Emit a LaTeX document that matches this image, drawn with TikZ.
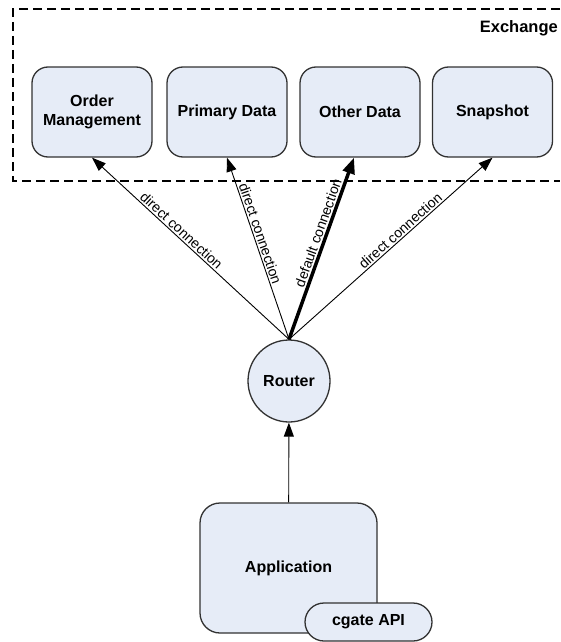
\documentclass[tikz,border=0pt]{standalone}
\usepackage{fontspec}
\setmainfont{Liberation Sans}
\usetikzlibrary{calc,arrows.meta}
\definecolor{unitfill}{RGB}{230,236,247}
\definecolor{unitline}{RGB}{50,50,50}
\def\unitnode{\node[draw=unitline,fill=unitfill,line width=1.3pt,rounded corners=16pt,minimum width=120pt,minimum height=90pt,align=center,font=\bfseries\fontsize{16}{19}\selectfont]}
\def\drawlink{\draw[line width=0.9pt,-{Triangle[length=14pt,width=10pt]}]}
\def\drawdefault{\draw[line width=3.5pt,-{Triangle[length=16pt,width=12pt]}]}

\begin{document}
\begin{tikzpicture}[x=1pt,y=-1pt,
  linklabel/.style={sloped,above,pos=0.57,inner sep=1.5pt,font=\fontsize{14}{16}\selectfont}]
\useasboundingbox (0,0) rectangle (560,642);

% ---------- the Exchange frame, open on the right
\coordinate (ex_tr) at (560,9);
\coordinate (ex_br) at (560,181);
\draw[line width=1.3pt,dash pattern=on 9pt off 5pt] (ex_tr) -| (13,181) -- (ex_br);
\node[anchor=base east,inner sep=0pt,font=\bfseries\fontsize{16.5}{19}\selectfont] (exchange) at (558,33) {Exchange};

% ---------- the four units inside the exchange
\unitnode (om) at (92,112) {Order\\Management};
\unitnode (pd) at (227,112) {Primary Data};
\unitnode (od) at (360,112) {Other Data};
\unitnode (snap) at (492.5,112) {Snapshot};

% ---------- router and application
\node[circle,draw=unitline,fill=unitfill,line width=1.3pt,minimum size=82pt,font=\bfseries\fontsize{16}{19}\selectfont] (router) at (289,381) {Router};
\coordinate (router_top) at (router.north); % all connections leave from here

\unitnode[minimum width=177pt,minimum height=130pt,rounded corners=20pt] (app) at (288.5,568) {Application};
\unitnode[minimum width=127pt,minimum height=38pt,rounded corners=19pt] (cgate) at (368.5,622) {cgate API};

% ---------- connections
\drawlink (router_top) -- node[linklabel] {direct connection} (om.south);
\drawlink (router_top) -- node[linklabel] {direct connection} (pd.south);
\drawdefault (router_top) -- node[linklabel] {default connection} ($ (od.south) + (-6,0) $);
\drawlink (router_top) -- node[linklabel] {direct connection} (snap.south);

\drawlink (app) -- (router);
\end{tikzpicture}
\end{document}
